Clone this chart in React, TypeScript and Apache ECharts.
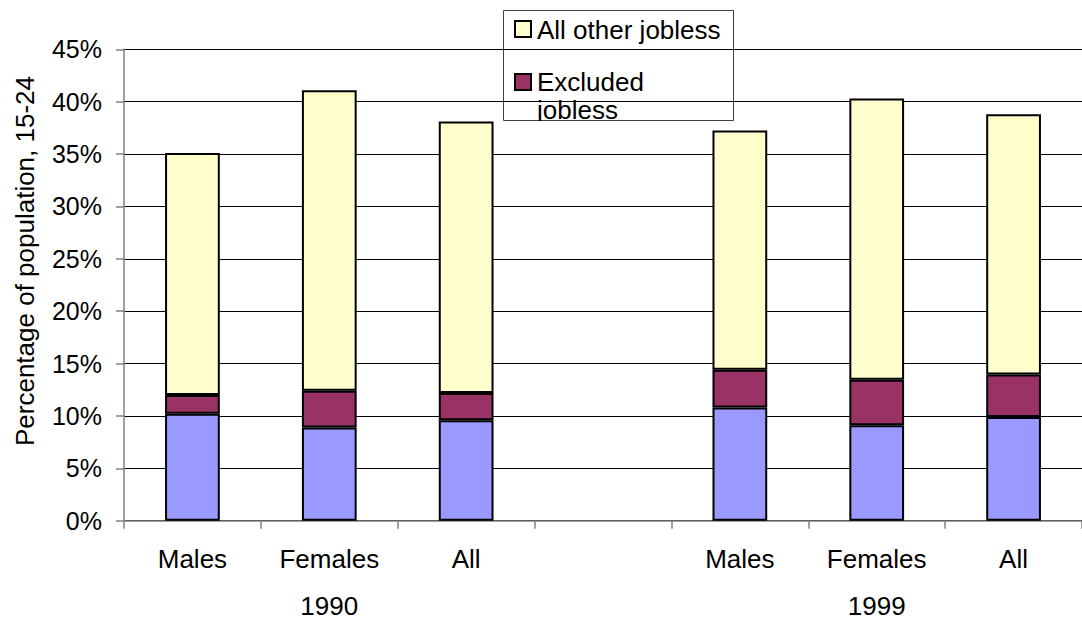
import React, { useEffect, useRef } from "react";
import * as echarts from "echarts";

const categories = ["Males", "Females", "All", "", "Males", "Females", "All"];
const groupLabels = ["", "1990", "", "", "", "1999", ""];
const baseJobless = [10.2, 8.9, 9.6, null, 10.8, 9.1, 9.9];
const excludedJobless = [1.8, 3.5, 2.6, null, 3.6, 4.35, 4.05];
const otherJobless = [23.1, 28.7, 25.9, null, 22.85, 26.85, 24.85];
const yTicks = { min: 0, max: 45, interval: 5 };
const yTitle = "Percentage of population, 15-24";
const legendItems = ["All other jobless", "Excluded", "jobless"];

const FONT = '"Liberation Sans", Arial, sans-serif';

export default function App() {
  const ref = useRef<HTMLDivElement>(null);
  useEffect(() => {
    document.body.style.margin = "0";
    if (!ref.current) return;
    const chart = echarts.init(ref.current, null, { renderer: "svg" });
    const catW = 137.67;
    const gridLeft = 124;
    const gridTop = 49.3;
    const gridHeight = 471.4;
    const bar = (name: string, data: (number | null)[], color: string) => ({
      name,
      type: "bar",
      stack: "total",
      data,
      barWidth: "40%",
      xAxisIndex: 0,
      itemStyle: { color, borderColor: "#000", borderWidth: 2 },
      emphasis: { disabled: true },
    });
    chart.setOption({
      animation: false,
      backgroundColor: "#fff",
      textStyle: { fontFamily: FONT },
      grid: { left: gridLeft, top: gridTop, width: catW * 7, height: gridHeight },
      xAxis: [
        {
          type: "category",
          data: categories,
          position: "bottom",
          axisLine: { lineStyle: { color: "#808080", width: 1.5 } },
          axisTick: { show: true, length: 8, lineStyle: { color: "#808080", width: 1.5 } },
          axisLabel: { color: "#000", fontSize: 26, fontFamily: FONT, margin: 25, interval: 0 },
          splitLine: { show: false },
        },
        {
          type: "category",
          data: groupLabels,
          position: "bottom",
          axisLine: { show: false },
          axisTick: { show: false },
          axisLabel: { color: "#000", fontSize: 26, fontFamily: FONT, margin: 72, interval: 0 },
          splitLine: { show: false },
        },
      ],
      yAxis: {
        type: "value",
        min: yTicks.min,
        max: yTicks.max,
        interval: yTicks.interval,
        axisLine: { show: true, lineStyle: { color: "#808080", width: 1.5 } },
        axisTick: { show: true, length: 8, lineStyle: { color: "#808080", width: 1.5 } },
        axisLabel: { color: "#000", fontSize: 25, fontFamily: FONT, margin: 22, formatter: "{value}%" },
        splitLine: { show: true, lineStyle: { color: "#000", width: 1 } },
      },
      series: [
        bar("Jobless, not excluded", baseJobless, "#9999FF"),
        bar("Excluded jobless", excludedJobless, "#993366"),
        bar("All other jobless", otherJobless, "#FFFFCC"),
      ],
      graphic: [
        {
          type: "text",
          x: 25,
          y: 261,
          rotation: Math.PI / 2,
          style: { text: yTitle, fill: "#000", font: `26px ${FONT}`, align: "center", verticalAlign: "middle" },
        },
        {
          type: "group",
          z: 100,
          children: [
            { type: "rect", shape: { x: 503.5, y: 10.5, width: 230, height: 110 }, style: { fill: "#fff", stroke: "#404040", lineWidth: 1 } },
            { type: "rect", shape: { x: 515, y: 21, width: 16, height: 16 }, style: { fill: "#FFFFCC", stroke: "#000", lineWidth: 2 } },
            { type: "text", x: 537, y: 30, style: { text: legendItems[0], fill: "#000", font: `26px ${FONT}`, verticalAlign: "middle" } },
            { type: "rect", shape: { x: 515, y: 74, width: 16, height: 16 }, style: { fill: "#993366", stroke: "#000", lineWidth: 2 } },
            { type: "text", x: 537, y: 82, style: { text: legendItems[1], fill: "#000", font: `26px ${FONT}`, verticalAlign: "middle" } },
            { type: "text", x: 537, y: 110, style: { text: legendItems[2], fill: "#000", font: `26px ${FONT}`, verticalAlign: "middle" } },
            { type: "rect", shape: { x: 520, y: 121, width: 120, height: 10 }, style: { fill: "#fff" } },
          ],
        },
      ],
    });
    return () => chart.dispose();
  }, []);
  return <div ref={ref} style={{ width: 1082, height: 628 }} />;
}
